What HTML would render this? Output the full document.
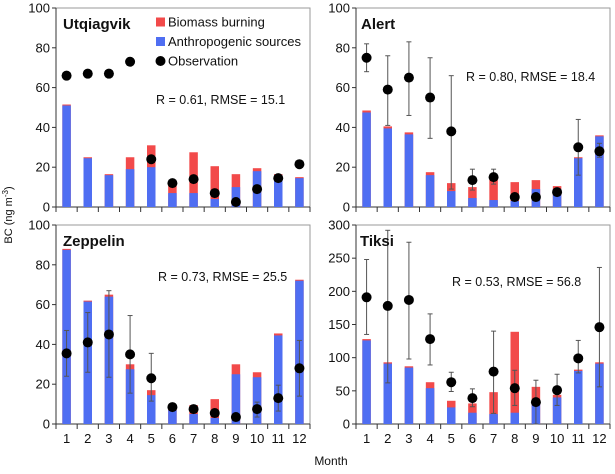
<!DOCTYPE html>
<html><head><meta charset="utf-8"><style>
body{margin:0;background:#fff;width:615px;height:469px;overflow:hidden}
svg text{font-family:"Liberation Sans",sans-serif;fill:#111}
</style></head><body>
<svg id="chart" width="615" height="469" viewBox="0 0 615 469" xmlns="http://www.w3.org/2000/svg">
<text transform="translate(12,215) rotate(-90)" text-anchor="middle" font-size="11">BC (ng m<tspan font-size="8" dy="-4">-3</tspan><tspan dy="4">)</tspan></text>
<text x="331" y="465" text-anchor="middle" font-size="12">Month</text>
</svg>
<script>
const months = [1,2,3,4,5,6,7,8,9,10,11,12];
const utqAnthro = [51,24.5,16,19,20,7,7,4,10,18,16,14.5];
const utqTotal = [51.5,25,16.5,25,31,11,27.5,20.5,16.5,19.5,16.5,15];
const utqObs = [66,67,67,73,24,12,14,7,2.5,9,14.5,21.5];
const utqErrLo = [null,null,null,null,null,null,null,null,null,null,null,null];
const utqErrHi = [null,null,null,null,null,null,null,null,null,null,null,null];
const alAnthro = [47.5,39.5,36.5,16,8,4.5,3.5,3,9,9,24.5,35.5];
const alTotal = [48.5,40.5,37.5,17.5,12,10,15,12.5,13.5,10.5,25,36];
const alObs = [75,59,65,55,38,13.5,15,5,5,7.5,30,28];
const alErrLo = [68,41,46,34.5,9,8.5,11.5,null,null,null,16,25];
const alErrHi = [82,76,83,75,66,19,19,null,null,null,44,32];
const zpAnthro = [87.5,61.5,64,27.5,14.5,7,5,3,25,23.5,44.5,72];
const zpTotal = [88,62,65,30,17,9,9.5,12.5,30,26,45.5,72.5];
const zpObs = [35.5,41,45,35,23,8.5,7.5,5.5,3.5,7.5,13,28];
const zpErrLo = [24,26,23.5,15.5,11.5,null,null,null,null,3.5,6.5,14];
const zpErrHi = [47,56,67,54.5,35.5,null,null,null,null,11,19.5,42];
const tkAnthro = [126,91,85,54,25,17,15,17,30,40,80,91];
const tkTotal = [128,93,87,63,35,31,48,139,56,44,82,93];
const tkObs = [191,178,187,128,63,39,79,54,33,51,99,146];
const tkErrLo = [135,62,98,89,49,26,16,28,0,28,77,56];
const tkErrHi = [248,292,274,166,78,53,140,81,66,75,126,236];
const topTicks = [0,20,40,60,80,100];
const tkTicks = [0,50,100,150,200,250,300];

const NS="http://www.w3.org/2000/svg";
const svg=document.getElementById('chart');
function mk(tag,attrs,parent){const e=document.createElementNS(NS,tag);for(const k in attrs)e.setAttribute(k,attrs[k]);(parent||svg).appendChild(e);return e;}

function panel(o){
  const g=mk('g',{});
  
  
  const cw=(o.x1-o.x0)/12;
  const xC=i=>o.x0+cw*(i+0.5);
  const yS=v=>o.yb-(v/o.ymax)*(o.yb-o.yt);
  const frame=mk('rect',{x:o.x0,y:o.yt,width:o.x1-o.x0,height:o.yb-o.yt,fill:'none',stroke:'#9a9a9a','stroke-width':1},g);
  
  
  mk('line',{x1:o.x0,y1:o.yt,x2:o.x0,y2:o.yb,stroke:'#333'},g);
  mk('line',{x1:o.x0,y1:o.yb,x2:o.x1,y2:o.yb,stroke:'#333'},g);
  o.ticks.forEach(t=>{
    mk('line',{x1:o.x0-4,y1:yS(t),x2:o.x0,y2:yS(t),stroke:'#333'},g);
    const tx=mk('text',{x:o.x0-6,y:yS(t)+4.5,'text-anchor':'end','font-size':13},g);
    tx.textContent=t;
    
    
  });
  for(let i=0;i<=12;i++) mk('line',{x1:o.x0+cw*i,y1:o.yb,x2:o.x0+cw*i,y2:o.yb+5,stroke:'#333'},g);
  const bw=8.5;
  months.forEach((m,i)=>{
    const rb=mk('rect',{x:xC(i)-bw/2,y:yS(o.total[i]),width:bw,height:yS(0)-yS(o.total[i]),fill:'#f24a4a'},g);
    
    
    const ab=mk('rect',{x:xC(i)-bw/2,y:yS(o.anthro[i]),width:bw,height:yS(0)-yS(o.anthro[i]),fill:'#4f6ef2'},g);
    
    
    if(o.lo[i]!==null){
      mk('line',{x1:xC(i),y1:yS(o.lo[i]),x2:xC(i),y2:yS(o.hi[i]),stroke:'#555','stroke-width':1},g);
      mk('line',{x1:xC(i)-2.5,y1:yS(o.lo[i]),x2:xC(i)+2.5,y2:yS(o.lo[i]),stroke:'#555'},g);
      mk('line',{x1:xC(i)-2.5,y1:yS(o.hi[i]),x2:xC(i)+2.5,y2:yS(o.hi[i]),stroke:'#555'},g);
    }
    const d=mk('circle',{cx:xC(i),cy:yS(o.obs[i]),r:5,fill:'#000'},g);
    
    
    if(o.months){
      const ml=mk('text',{x:xC(i),y:o.yb+19,'text-anchor':'middle','font-size':13},g);
      ml.textContent=m;
      
      
    }
  });
  const t=mk('text',{x:o.tx,y:o.ty,'font-size':15,'font-weight':'bold'},g);
  t.textContent=o.title;
  
  
  const s=mk('text',{x:o.sx,y:o.sy,'font-size':12.5},g);
  s.textContent=o.stat;
  
  
}
panel({name:'utqiagvik',title:'Utqiagvik',x0:56,x1:310,yt:8,yb:207,ymax:100,ticks:topTicks,anthro:utqAnthro,total:utqTotal,obs:utqObs,lo:utqErrLo,hi:utqErrHi,tx:63,ty:29,sx:156,sy:104,stat:'R = 0.61, RMSE = 15.1'});
panel({name:'alert',title:'Alert',x0:356,x1:610,yt:8,yb:207,ymax:100,ticks:topTicks,anthro:alAnthro,total:alTotal,obs:alObs,lo:alErrLo,hi:alErrHi,tx:361,ty:29,sx:466,sy:81,stat:'R = 0.80, RMSE = 18.4'});
panel({name:'zeppelin',title:'Zeppelin',x0:56,x1:310,yt:225,yb:424,ymax:100,ticks:topTicks,anthro:zpAnthro,total:zpTotal,obs:zpObs,lo:zpErrLo,hi:zpErrHi,tx:63,ty:246,sx:158,sy:281,stat:'R = 0.73, RMSE = 25.5',months:true});
panel({name:'tiksi',title:'Tiksi',x0:356,x1:610,yt:225,yb:424,ymax:300,ticks:tkTicks,anthro:tkAnthro,total:tkTotal,obs:tkObs,lo:tkErrLo,hi:tkErrHi,tx:360,ty:246,sx:452,sy:286,stat:'R = 0.53, RMSE = 56.8',months:true});

const lg=mk('g',{});


const items=[['Biomass burning','#f24a4a','rect'],['Anthropogenic sources','#4f6ef2','rect'],['Observation','#000','dot']];
items.forEach((it,k)=>{
  const y=22+k*19.5;
  if(it[2]==='rect'){const r=mk('rect',{x:156,y:y-4.5,width:9,height:9,fill:it[1]},lg);}
  else{const c=mk('circle',{cx:160.5,cy:y,r:5,fill:'#000'},lg);}
  const t=mk('text',{x:168,y:y+4.5,'font-size':13},lg);
  t.textContent=it[0];
  
  
});
</script>
</body></html>
